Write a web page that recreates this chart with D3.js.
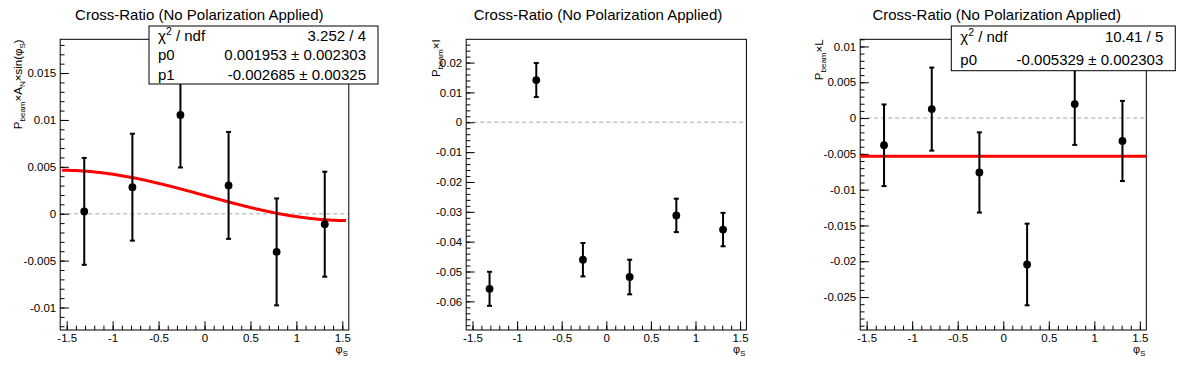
<!DOCTYPE html>
<html>
<head>
<meta charset="utf-8">
<script src="https://cdn.jsdelivr.net/npm/d3@7"></script>
<style>
  html, body { margin: 0; padding: 0; background: #fff; }
  svg { display: block; font-family: "Liberation Sans", Arial, Helvetica, sans-serif; }
</style>
</head>
<body>
<svg id="chart" width="1196" height="372"></svg>
<script>
// ---------------- DATA ----------------
const phiS = [-1.309, -0.785, -0.262, 0.262, 0.785, 1.309];

const sinValues = [0.00025, 0.00283, 0.01053, 0.00302, -0.00407, -0.00112];
const sinErrors = [0.0057, 0.0057, 0.0056, 0.0057, 0.0057, 0.0056];

const iValues = [-0.0558, 0.01415, -0.04605, -0.05185, -0.0312, -0.03595];
const iErrors = [0.0057, 0.0057, 0.0056, 0.0058, 0.0056, 0.0056];

const lValues = [-0.0038, 0.00125, -0.0076, -0.02045, 0.00195, -0.0032];
const lErrors = [0.0057, 0.0058, 0.0056, 0.0057, 0.0057, 0.0056];

const xRange = [-Math.PI / 2, Math.PI / 2];
const xTicks = [-1.5, -1, -0.5, 0, 0.5, 1, 1.5];

const sinYRange = [-0.0124, 0.0186];
const sinYTicks = [-0.01, -0.005, 0, 0.005, 0.01, 0.015];
const iYRange = [-0.0696, 0.0278];
const iYTicks = [-0.06, -0.05, -0.04, -0.03, -0.02, -0.01, 0, 0.01, 0.02];
const lYRange = [-0.0296, 0.0110];
const lYTicks = [-0.025, -0.02, -0.015, -0.01, -0.005, 0, 0.005, 0.01];

const sinFit = { p0: 0.001953, p1: -0.002685, range: [-1.55, 1.54] };
const lFit = { p0: -0.005329 };

const sinStats = [["χ2 / ndf", "3.252 / 4"], ["p0", "0.001953 ± 0.002303"], ["p1", "-0.002685 ± 0.00325"]];
const lStats = [["χ2 / ndf", "10.41 / 5"], ["p0", "-0.005329 ± 0.002303"]];

const titleText = "Cross-Ratio (No Polarization Applied)";

// ---------------- LAYOUT ----------------
const padW = 1196 / 3;
const frameTop = 39.3, frameBottom = 330;
const FS_LABEL = 11.5, FS_TITLE = 15, FS_STATS = 15, FS_AXT = 11.5;

const panels = [
  {
    pad: 0, left: 60.2, right: 348.8, yRange: sinYRange, yTicks: sinYTicks, minorY: 0.001,
    values: sinValues, errors: sinErrors, yTitleX: 21.7,
    yTitle: [{ t: "P" }, { t: "beam", sub: true }, { t: "×A" }, { t: "N", sub: true }, { t: "×sin(φ" }, { t: "S", sub: true }, { t: ")" }],
    fit: "sin", stats: sinStats, box: [149, 26, 378, 84]
  },
  {
    pad: 1, left: 466.2, right: 746.4, yRange: iYRange, yTicks: iYTicks, minorY: 0.002,
    values: iValues, errors: iErrors, yTitleX: 440,
    yTitle: [{ t: "P" }, { t: "beam", sub: true }, { t: "×I" }],
    fit: null, stats: null
  },
  {
    pad: 2, left: 860.2, right: 1146.3, yRange: lYRange, yTicks: lYTicks, minorY: 0.001,
    values: lValues, errors: lErrors, yTitleX: 823.3,
    yTitle: [{ t: "P" }, { t: "beam", sub: true }, { t: "×L" }],
    fit: "const", stats: lStats, box: [951.3, 26, 1175.3, 70.7]
  }
];

const svg = d3.select("#chart");
const fmt = d => String(+d.toFixed(4));

function richText(sel, parts, fs) {
  let cur = 0;
  parts.forEach(p => {
    const target = p.sub ? fs * 0.25 : (p.sup ? -fs * 0.4 : 0);
    sel.append("tspan")
      .attr("font-size", (p.sub || p.sup) ? fs * 0.7 : fs)
      .attr("dy", target - cur)
      .text(p.t);
    cur = target;
  });
}

panels.forEach(P => {
  const x = d3.scaleLinear().domain(xRange).range([P.left, P.right]);
  const y = d3.scaleLinear().domain(P.yRange).range([frameBottom, frameTop]);
  const g = svg.append("g");
  const tickMajY = 0.03 * (P.right - P.left);
  const tickMajX = 0.03 * (frameBottom - frameTop);

  // title
  svg.append("text")
    .attr("x", padW * P.pad + padW / 2).attr("y", 19.5)
    .attr("text-anchor", "middle").attr("font-size", FS_TITLE).attr("fill", "#000")
    .text(titleText);

  // zero dashed line
  g.append("line")
    .attr("x1", P.left).attr("x2", P.right).attr("y1", y(0)).attr("y2", y(0))
    .attr("stroke", "#c4c4c4").attr("stroke-width", 1.5).attr("stroke-dasharray", "4,3");

  // frame
  g.append("rect")
    .attr("x", P.left).attr("y", frameTop)
    .attr("width", P.right - P.left).attr("height", frameBottom - frameTop)
    .attr("fill", "none").attr("stroke", "#000").attr("stroke-width", 1);

  // x axis
  const xMinor = d3.range(Math.ceil(xRange[0] / 0.1), Math.floor(xRange[1] / 0.1) + 1).map(i => i / 10);
  const gxMin = g.append("g").attr("transform", `translate(0,${frameBottom})`)
    .call(d3.axisBottom(x).tickValues(xMinor).tickSize(-tickMajX / 2).tickFormat(""));
  const gx = g.append("g").attr("transform", `translate(0,${frameBottom})`)
    .call(d3.axisBottom(x).tickValues(xTicks).tickSize(-tickMajX).tickPadding(3).tickFormat(fmt));

  // y axis
  const st = P.minorY;
  const yMinor = d3.range(Math.ceil(P.yRange[0] / st - 1e-6), Math.floor(P.yRange[1] / st + 1e-6) + 1).map(i => +(i * st).toFixed(6));
  const gyMin = g.append("g").attr("transform", `translate(${P.left},0)`)
    .call(d3.axisLeft(y).tickValues(yMinor).tickSize(-tickMajY / 2).tickFormat(""));
  const gy = g.append("g").attr("transform", `translate(${P.left},0)`)
    .call(d3.axisLeft(y).tickValues(P.yTicks).tickSize(-tickMajY).tickPadding(4).tickFormat(fmt));

  [gxMin, gx, gyMin, gy].forEach(a => {
    a.select(".domain").remove();
    a.selectAll("line").attr("stroke", "#000").attr("stroke-width", 1);
    a.selectAll("text").attr("font-size", FS_LABEL).attr("fill", "#000")
      .attr("font-family", "Liberation Sans, Arial, sans-serif");
  });
  gx.selectAll("text").attr("dy", "0.74em");

  // x axis title
  const xt = svg.append("text")
    .attr("x", P.right - 1).attr("y", 353)
    .attr("text-anchor", "end").attr("fill", "#000");
  richText(xt, [{ t: "φ" }, { t: "S", sub: true }], 11);

  // y axis title
  const yt = svg.append("text")
    .attr("transform", `translate(${P.yTitleX},${frameTop}) rotate(-90)`)
    .attr("text-anchor", "end").attr("fill", "#000");
  richText(yt, P.yTitle, FS_AXT);

  // fit
  if (P.fit === "sin") {
    const xs = d3.range(0, 201).map(i => sinFit.range[0] + (sinFit.range[1] - sinFit.range[0]) * i / 200);
    g.append("path")
      .attr("d", d3.line().x(d => x(d)).y(d => y(sinFit.p0 + sinFit.p1 * Math.sin(d)))(xs))
      .attr("fill", "none").attr("stroke", "#ff0000").attr("stroke-width", 3);
  } else if (P.fit === "const") {
    g.append("line")
      .attr("x1", x(xRange[0])).attr("x2", x(xRange[1]))
      .attr("y1", y(lFit.p0)).attr("y2", y(lFit.p0))
      .attr("stroke", "#ff0000").attr("stroke-width", 3);
  }

  // data points with error bars
  const pts = phiS.map((p, i) => ({ x: p, v: P.values[i], e: P.errors[i] }));
  const pg = g.selectAll(".pt").data(pts).enter().append("g");
  pg.append("line")
    .attr("x1", d => x(d.x)).attr("x2", d => x(d.x))
    .attr("y1", d => y(d.v - d.e)).attr("y2", d => y(d.v + d.e))
    .attr("stroke", "#000").attr("stroke-width", 2);
  pg.append("line")
    .attr("x1", d => x(d.x) - 2.5).attr("x2", d => x(d.x) + 2.5)
    .attr("y1", d => y(d.v - d.e)).attr("y2", d => y(d.v - d.e))
    .attr("stroke", "#000").attr("stroke-width", 2);
  pg.append("line")
    .attr("x1", d => x(d.x) - 2.5).attr("x2", d => x(d.x) + 2.5)
    .attr("y1", d => y(d.v + d.e)).attr("y2", d => y(d.v + d.e))
    .attr("stroke", "#000").attr("stroke-width", 2);
  pg.append("circle")
    .attr("cx", d => x(d.x)).attr("cy", d => y(d.v)).attr("r", 3.9)
    .attr("fill", "#000");

  // stats box
  if (P.stats) {
    const [bx0, by0, bx1, by1] = P.box;
    svg.append("rect")
      .attr("x", bx0).attr("y", by0).attr("width", bx1 - bx0).attr("height", by1 - by0)
      .attr("fill", "#fff").attr("stroke", "#000").attr("stroke-width", 1);
    const rowH = (by1 - by0) / P.stats.length;
    P.stats.forEach((row, i) => {
      const yb = by0 + rowH * (i + 0.5) + FS_STATS * 0.35;
      const lt = svg.append("text").attr("x", bx0 + 9).attr("y", yb)
        .attr("font-size", FS_STATS).attr("fill", "#000");
      if (row[0].startsWith("χ2")) {
        richText(lt, [{ t: "χ" }, { t: "2", sup: true }, { t: row[0].slice(2) }], FS_STATS);
      } else {
        lt.text(row[0]);
      }
      svg.append("text").attr("x", bx1 - 12).attr("y", yb)
        .attr("text-anchor", "end").attr("font-size", FS_STATS).attr("fill", "#000")
        .text(row[1]);
    });
  }
});
</script>
</body>
</html>
